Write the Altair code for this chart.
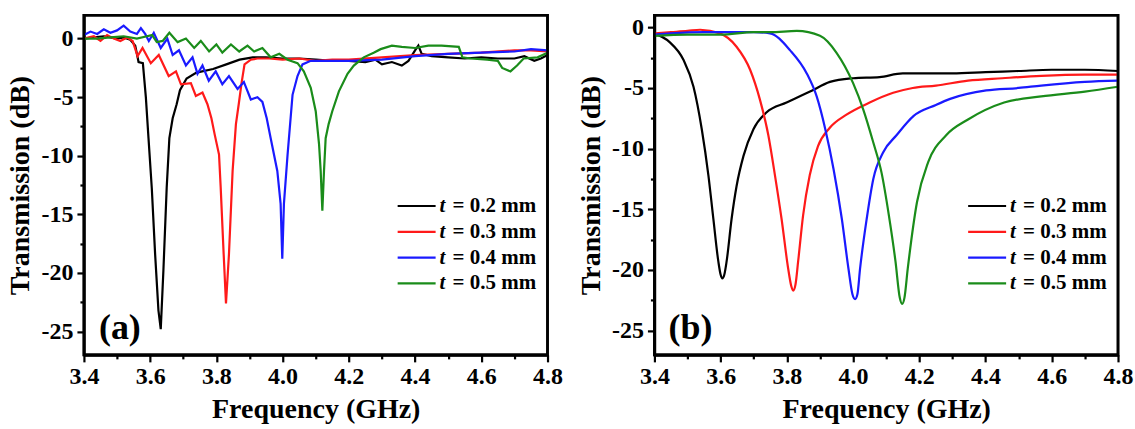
import altair as alt
import pandas as pd

SERIES = ["t = 0.2 mm", "t = 0.3 mm", "t = 0.4 mm", "t = 0.5 mm"]
COLORS = ["#000000", "#ff1a1a", "#1a1aff", "#1a8c1a"]
FONT = "Liberation Serif"

XTICKS = [3.4, 3.5, 3.6, 3.7, 3.8, 3.9, 4.0, 4.1, 4.2, 4.3, 4.4, 4.5, 4.6, 4.7, 4.8]
YTICKS = [0, -2.5, -5, -7.5, -10, -12.5, -15, -17.5, -20, -22.5, -25]

# ---- panel (a): measured ----
a_f_02 = [3.40, 3.43, 3.46, 3.48, 3.50, 3.52, 3.54, 3.555, 3.565, 3.578, 3.587, 3.595, 3.605, 3.615,
          3.625, 3.632, 3.640, 3.650, 3.658, 3.668, 3.68, 3.69, 3.71, 3.74, 3.79, 3.83, 3.87, 3.91,
          3.95, 4.00, 4.05, 4.10, 4.15, 4.20, 4.25, 4.28, 4.30, 4.33, 4.36, 4.38, 4.40, 4.41, 4.42,
          4.45, 4.50, 4.55, 4.60, 4.65, 4.70, 4.73, 4.76, 4.78, 4.80]
a_v_02 = [0.0, 0.1, 0.2, 0.1, 0.0, 0.1, -0.1, -0.6, -2.0, -2.1, -5.0, -8.5, -12.8, -18.4,
          -23.2, -24.8, -19.8, -12.7, -8.5, -6.8, -5.6, -4.4, -3.4, -2.9, -2.6, -2.2, -1.8, -1.6,
          -1.6, -1.7, -1.7, -1.8, -1.9, -1.9, -2.0, -1.8, -2.2, -2.0, -2.3, -1.9, -1.0, -0.6, -1.3,
          -1.5, -1.6, -1.7, -1.6, -1.7, -1.7, -1.5, -1.9, -1.7, -1.4]

a_f_03 = [3.40, 3.43, 3.45, 3.47, 3.49, 3.51, 3.53, 3.547, 3.562, 3.577, 3.602, 3.626, 3.656, 3.678,
          3.693, 3.723, 3.738, 3.758, 3.773, 3.785, 3.795, 3.808, 3.813, 3.822, 3.829, 3.838, 3.849,
          3.859, 3.868, 3.876, 3.885, 3.904, 3.924, 3.96, 4.0, 4.05, 4.1, 4.15, 4.2, 4.3, 4.4, 4.5,
          4.6, 4.7, 4.75, 4.8]
a_v_03 = [0.0, 0.2, -0.2, 0.3, 0.0, -0.2, 0.1, -0.2, -1.5, -0.8, -2.1, -1.4, -3.2, -2.8,
          -3.9, -3.8, -4.9, -4.6, -5.6, -6.8, -8.2, -9.9, -12.7, -18.4, -22.6, -18.4, -11.3,
          -7.3, -5.5, -3.8, -2.2, -1.8, -1.7, -1.7, -1.8, -1.7, -1.9, -1.8, -1.8, -1.6, -1.4, -1.3,
          -1.2, -1.0, -1.0, -1.1]

a_f_04 = [3.40, 3.42, 3.44, 3.46, 3.48, 3.50, 3.52, 3.54, 3.56, 3.572, 3.585, 3.596, 3.611, 3.632,
          3.652, 3.668, 3.687, 3.708, 3.728, 3.743, 3.758, 3.777, 3.798, 3.818, 3.838, 3.864, 3.883,
          3.904, 3.924, 3.939, 3.952, 3.964, 3.984, 3.994, 3.999, 4.004, 4.015, 4.025, 4.03, 4.045,
          4.06, 4.085, 4.15, 4.2, 4.3, 4.4, 4.5, 4.6, 4.7, 4.75, 4.8]
a_v_04 = [0.3, 0.6, 0.4, 0.8, 0.5, 0.7, 1.1, 0.6, 0.4, 0.9, 0.4, -0.2, 0.5, -0.8,
          0.0, -1.4, -1.0, -2.3, -1.6, -3.0, -2.3, -3.6, -2.8, -3.9, -3.2, -4.3, -3.7,
          -5.2, -5.0, -5.4, -6.8, -8.5, -11.3, -14.1, -18.8, -14.1, -9.9, -6.5, -4.8, -3.2,
          -2.2, -1.9, -1.9, -1.9, -1.8, -1.5, -1.3, -1.2, -1.1, -0.9, -1.0]

a_f_05 = [3.40, 3.44, 3.48, 3.52, 3.56, 3.59, 3.606, 3.62, 3.638, 3.658, 3.683, 3.708, 3.733, 3.753,
          3.778, 3.80, 3.818, 3.844, 3.869, 3.894, 3.914, 3.939, 3.964, 3.99, 4.015, 4.045, 4.064,
          4.085, 4.10, 4.11, 4.115, 4.12, 4.125, 4.13, 4.139, 4.15, 4.17, 4.196, 4.215, 4.245, 4.275,
          4.296, 4.33, 4.36, 4.40, 4.44, 4.48, 4.532, 4.543, 4.568, 4.618, 4.65, 4.663, 4.688, 4.708,
          4.728, 4.77, 4.80]
a_v_05 = [0.0, 0.0, 0.1, 0.2, 0.0, 0.2, 0.3, -0.3, -0.2, 0.5, -0.3, 0.0, -0.8, -0.2,
          -1.1, -0.5, -1.2, -0.5, -1.1, -0.6, -1.1, -0.8, -1.6, -1.3, -1.8, -2.1, -2.8,
          -4.2, -6.2, -9.0, -11.3, -14.7, -11.3, -8.5, -7.3, -6.2, -4.5, -3.0, -2.3, -1.6, -1.2,
          -0.9, -0.6, -0.7, -0.8, -0.6, -0.6, -0.7, -1.6, -1.7, -1.8, -1.9, -2.5, -2.8, -2.3,
          -1.7, -1.6, -1.2]

# ---- panel (b): simulated ----
b_f_02 = [3.40, 3.445, 3.488, 3.518, 3.543, 3.563, 3.578, 3.593, 3.600, 3.605, 3.611, 3.618, 3.633,
          3.648, 3.669, 3.699, 3.739, 3.799, 3.87, 3.93, 4.0, 4.08, 4.15, 4.2, 4.3, 4.4, 4.5, 4.6,
          4.7, 4.8]
b_v_02 = [-0.5, -1.2, -2.7, -4.9, -8.4, -12.2, -15.8, -19.3, -20.4, -20.7, -20.4, -19.3, -15.8,
          -13.1, -10.6, -8.4, -7.0, -6.2, -5.3, -4.5, -4.2, -4.1, -3.8, -3.8, -3.8, -3.7, -3.6, -3.5,
          -3.5, -3.6]

b_f_03 = [3.40, 3.45, 3.50, 3.538, 3.598, 3.648, 3.689, 3.719, 3.744, 3.764, 3.784, 3.804, 3.813,
          3.819, 3.826, 3.834, 3.849, 3.869, 3.894, 3.929, 3.98, 4.05, 4.121, 4.18, 4.25, 4.347,
          4.45, 4.568, 4.7, 4.8]
b_v_03 = [-0.5, -0.4, -0.3, -0.2, -0.5, -1.6, -3.5, -6.0, -8.9, -12.2, -15.8, -19.9, -21.3,
          -21.7, -21.2, -19.3, -15.5, -12.2, -9.8, -8.3, -7.2, -6.2, -5.4, -5.0, -4.8, -4.4,
          -4.2, -4.0, -3.9, -3.9]

b_f_04 = [3.40, 3.45, 3.55, 3.65, 3.70, 3.749, 3.81, 3.86, 3.89, 3.916, 3.941, 3.966, 3.986, 3.998,
          4.006, 4.013, 4.021, 4.041, 4.061, 4.091, 4.131, 4.183, 4.25, 4.293, 4.402, 4.5, 4.568,
          4.7, 4.8]
b_v_04 = [-0.6, -0.5, -0.4, -0.4, -0.4, -0.5, -1.9, -3.8, -5.7, -8.4, -11.7, -15.8, -19.9, -22.0,
          -22.4, -22.0, -19.9, -15.8, -12.5, -10.3, -8.9, -7.3, -6.4, -5.9, -5.2, -5.0, -4.8,
          -4.5, -4.4]

b_f_05 = [3.40, 3.50, 3.60, 3.70, 3.75, 3.83, 3.90, 3.95, 4.0, 4.031, 4.061, 4.086, 4.108, 4.128,
          4.141, 4.148, 4.155, 4.165, 4.193, 4.227, 4.281, 4.347, 4.456, 4.568, 4.7, 4.8]
b_v_05 = [-0.7, -0.6, -0.6, -0.4, -0.4, -0.3, -0.7, -2.1, -4.6, -6.8, -9.5, -12.0, -15.5, -19.3,
          -22.3, -22.8, -22.3, -19.9, -14.4, -11.1, -8.9, -7.6, -6.2, -5.7, -5.3, -4.9]

PANEL_A = [(a_f_02, a_v_02), (a_f_03, a_v_03), (a_f_04, a_v_04), (a_f_05, a_v_05)]
PANEL_B = [(b_f_02, b_v_02), (b_f_03, b_v_03), (b_f_04, b_v_04), (b_f_05, b_v_05)]

PLOT_W, PLOT_H = 464, 340
FRAME_W = 2.6


def tick_cond(test, major, minor):
    return {"condition": {"test": test, "value": major}, "value": minor}


def panel(curves, ydomain, letter, interp):
    rows = []
    for name, (fs, vs) in zip(SERIES, curves):
        for f, v in zip(fs, vs):
            rows.append({"series": name, "f": f, "dB": v})
    df = pd.DataFrame(rows)

    xmaj = "round(datum.value * 10) % 2 == 0"
    ymaj = "datum.value % 5 == 0"
    xaxis = alt.Axis(
        values=XTICKS,
        labelExpr=f"{xmaj} ? format(datum.value, '.1f') : ''",
        tickSize=tick_cond(xmaj, 7, 4), tickWidth=2.2, tickColor="black",
        domain=True, domainColor="black", domainWidth=FRAME_W,
        grid=False, labelFlush=False, labelOverlap=False,
        labelFont=FONT, labelFontSize=24, labelFontWeight="bold", labelColor="black",
        labelPadding=3,
        title="Frequency (GHz)", titleFont=FONT, titleFontSize=28, titleFontWeight="bold",
        titleColor="black", titlePadding=7,
    )
    yaxis = alt.Axis(
        values=YTICKS,
        labelExpr=f"{ymaj} ? '' + datum.value : ''",
        tickSize=tick_cond(ymaj, 7, 4), tickWidth=2.2, tickColor="black",
        domain=True, domainColor="black", domainWidth=FRAME_W,
        grid=False, labelFlush=False, labelOverlap=False,
        labelFont=FONT, labelFontSize=24, labelFontWeight="bold", labelColor="black",
        labelPadding=4,
        title="Transmission (dB)", titleFont=FONT, titleFontSize=28, titleFontWeight="bold",
        titleColor="black", titlePadding=6,
    )
    color = alt.Color("series:N", scale=alt.Scale(domain=SERIES, range=COLORS), legend=None)

    lines = alt.Chart(df).mark_line(strokeWidth=2.2, interpolate=interp).encode(
        x=alt.X("f:Q", scale=alt.Scale(domain=[3.4, 4.8], nice=False, zero=False), axis=xaxis),
        y=alt.Y("dB:Q", scale=alt.Scale(domain=ydomain, nice=False, zero=False), axis=yaxis),
        color=color,
    )

    one = pd.DataFrame({"k": [0]})
    layers = [lines]

    # plot frame: outlined rectangle over the whole plot area
    layers.append(alt.Chart(one).mark_rect(
        fill="transparent", stroke="black", strokeWidth=FRAME_W).encode(
        x=alt.value(0), x2=alt.value(PLOT_W), y=alt.value(0), y2=alt.value(PLOT_H)))

    # legend, one row per series
    for i, (name, col) in enumerate(zip(SERIES, COLORS)):
        ly = 191 + 25.8 * i
        layers.append(alt.Chart(one).mark_rule(strokeWidth=2.2, color=col).encode(
            x=alt.value(314), x2=alt.value(352), y=alt.value(ly)))
        layers.append(alt.Chart(one).mark_text(
            font=FONT, fontSize=21, fontWeight="bold", fontStyle="italic", align="left",
            baseline="middle", color="black", text=name[0]).encode(
            x=alt.value(356), y=alt.value(ly)))
        layers.append(alt.Chart(one).mark_text(
            font=FONT, fontSize=21, fontWeight="bold", align="left",
            baseline="middle", color="black", text=name[2:]).encode(
            x=alt.value(369), y=alt.value(ly)))

    layers.append(alt.Chart(one).mark_text(
        font=FONT, fontSize=36, fontWeight="bold", align="center", baseline="middle",
        color="black", text=letter).encode(x=alt.value(36), y=alt.value(313)))

    return alt.layer(*layers).properties(width=PLOT_W, height=PLOT_H)


left = panel(PANEL_A, [-27, 2], "(a)", "linear")
right = panel(PANEL_B, [-27, 1], "(b)", "monotone")

chart = alt.hconcat(left, right, spacing=11).properties(
    padding={"left": 5, "top": 12, "right": 0, "bottom": 0}
).configure(background="white").configure_view(stroke="black", strokeWidth=FRAME_W)

chart.save("out.html", embed_options={"renderer": "svg", "actions": False})
